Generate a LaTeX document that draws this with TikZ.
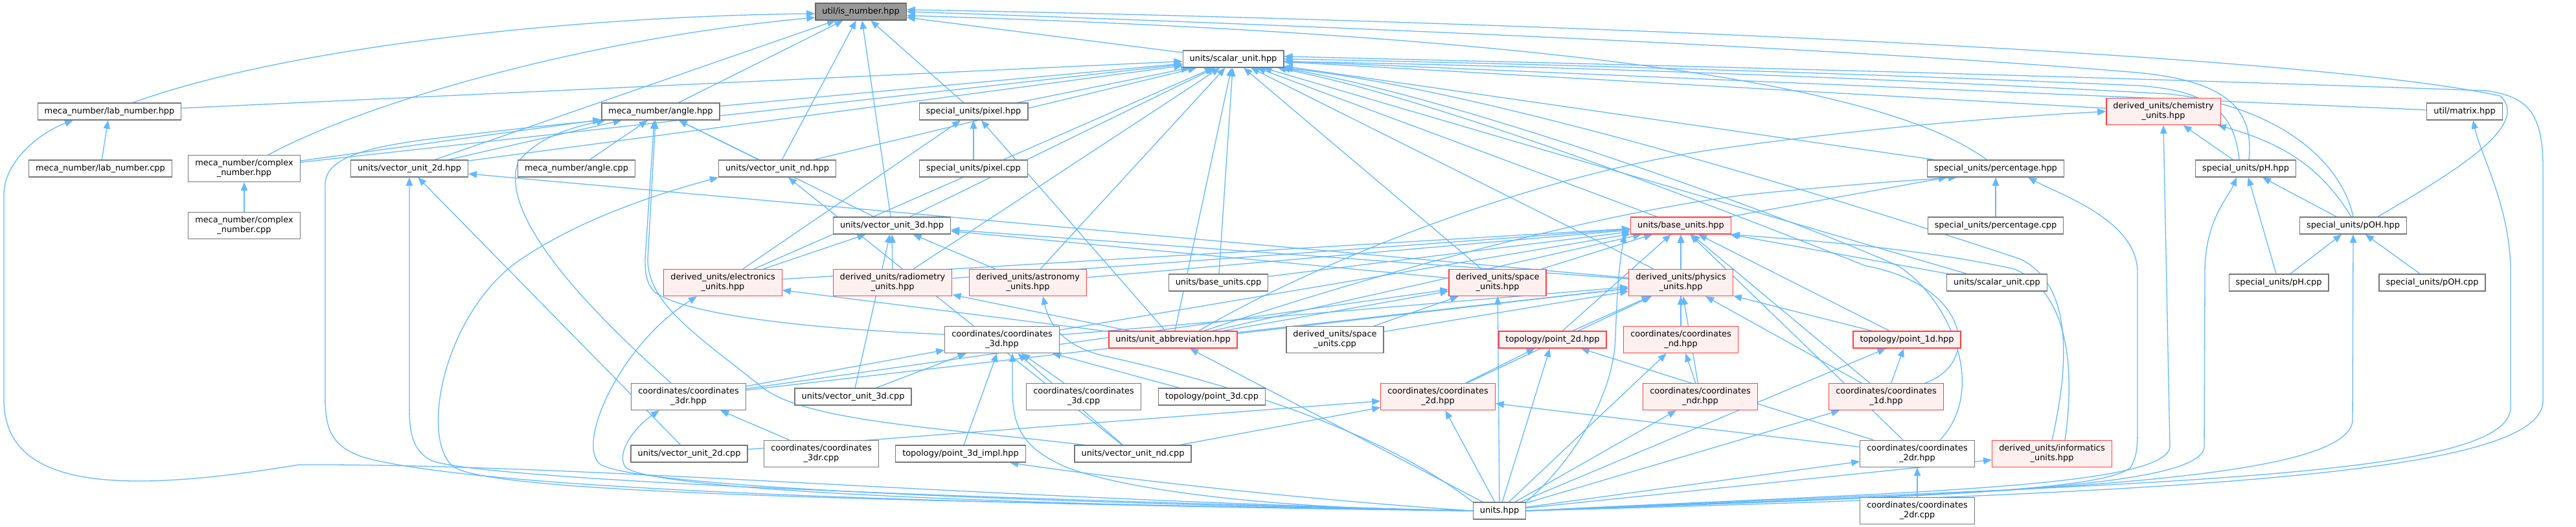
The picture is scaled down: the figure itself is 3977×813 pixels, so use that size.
\documentclass[tikz,border=0pt]{standalone}
\usepackage{fontspec}
\setmainfont{DejaVu Sans}
\usetikzlibrary{arrows.meta}
\pgfdeclarelayer{bg}
\pgfsetlayers{bg,main}
\definecolor{edgec}{HTML}{63B8FF}
\definecolor{nodeb}{HTML}{777777}
\definecolor{redb}{HTML}{FF4040}
\definecolor{redf}{HTML}{FFF0F0}
\definecolor{ingrey}{HTML}{999999}
\definecolor{ingreyb}{HTML}{666666}
\tikzset{
 nb/.style={draw=nodeb, line width=1.3pt, fill=white, inner xsep=10.5pt, inner ysep=0pt,
   minimum height=26pt, font=\fontsize{12.9}{15}\selectfont, align=center},
 rb/.style={nb, draw=redb, fill=redf},
 gb/.style={nb, fill=ingrey, draw=ingreyb},
 two/.style={minimum height=41pt},
 e/.style={draw=edgec, line width=1.3pt, -{Triangle[length=13pt,width=10.5pt]}},
}
\begin{document}
\begin{tikzpicture}[x=1pt,y=-1pt]
\useasboundingbox (0,0) rectangle (3977,813);
% nodes
\node[gb] (IN) at (1329,18) {util/is\_number.hpp};
\node[nb] (SU) at (1904,91) {units/scalar\_unit.hpp};
\node[nb] (labh) at (169,172) {meca\_number/lab\_number.hpp};
\node[nb] (angh) at (1020,172) {meca\_number/angle.hpp};
\node[nb] (pixh) at (1503,172) {special\_units/pixel.hpp};
\node[rb,two] (chem) at (3340,172) {derived\_units/chemistry\\\_units.hpp};
\node[nb] (matrix) at (3805,172) {util/matrix.hpp};
\node[nb] (labc) at (155,260) {meca\_number/lab\_number.cpp};
\node[nb,two] (cplxh) at (377,260) {meca\_number/complex\\\_number.hpp};
\node[nb] (v2h) at (632,260) {units/vector\_unit\_2d.hpp};
\node[nb] (angc) at (890,260) {meca\_number/angle.cpp};
\node[nb] (vndh) at (1200,260) {units/vector\_unit\_nd.hpp};
\node[nb] (pixc) at (1503,260) {special\_units/pixel.cpp};
\node[nb] (perh) at (3081,260) {special\_units/percentage.hpp};
\node[nb] (phh) at (3467,260) {special\_units/pH.hpp};
\node[nb,two] (cplxc) at (377,348) {meca\_number/complex\\\_number.cpp};
\node[nb] (v3h) at (1377,348) {units/vector\_unit\_3d.hpp};
\node[rb] (baseh) at (2595,348) {units/base\_units.hpp};
\node[nb] (perc) at (3081,348) {special\_units/percentage.cpp};
\node[nb] (pohh) at (3633,348) {special\_units/pOH.hpp};
\node[rb,two] (elec) at (1116,436) {derived\_units/electronics\\\_units.hpp};
\node[rb,two] (radio) at (1378,436) {derived\_units/radiometry\\\_units.hpp};
\node[rb,two] (astro) at (1587,436) {derived\_units/astronomy\\\_units.hpp};
\node[nb] (basec) at (1881,436) {units/base\_units.cpp};
\node[rb,two] (spaceh) at (2312,436) {derived\_units/space\\\_units.hpp};
\node[rb,two] (phys) at (2595,436) {derived\_units/physics\\\_units.hpp};
\node[nb] (suc) at (3083,436) {units/scalar\_unit.cpp};
\node[nb] (phc) at (3518,436) {special\_units/pH.cpp};
\node[nb] (pohc) at (3755,436) {special\_units/pOH.cpp};
\node[nb,two] (c3dh) at (1547,524) {coordinates/coordinates\\\_3d.hpp};
\node[rb] (abbr) at (1811,524) {units/unit\_abbreviation.hpp};
\node[nb,two] (spacec) at (2061,524) {derived\_units/space\\\_units.cpp};
\node[rb] (p2d) at (2397,524) {topology/point\_2d.hpp};
\node[rb,two] (cndh) at (2595,524) {coordinates/coordinates\\\_nd.hpp};
\node[rb] (p1d) at (2944,524) {topology/point\_1d.hpp};
\node[nb,two] (c3drh) at (1063,612) {coordinates/coordinates\\\_3dr.hpp};
\node[nb] (v3c) at (1317,612) {units/vector\_unit\_3d.cpp};
\node[nb,two] (c3dc) at (1673,612) {coordinates/coordinates\\\_3d.cpp};
\node[nb] (p3dc) at (1871,612) {topology/point\_3d.cpp};
\node[rb,two] (c2dh) at (2220,612) {coordinates/coordinates\\\_2d.hpp};
\node[rb,two] (cndrh) at (2625,612) {coordinates/coordinates\\\_ndr.hpp};
\node[rb,two] (c1dh) at (2912,612) {coordinates/coordinates\\\_1d.hpp};
\node[nb] (v2c) at (1064,700) {units/vector\_unit\_2d.cpp};
\node[nb,two] (c3drc) at (1268,700) {coordinates/coordinates\\\_3dr.cpp};
\node[nb] (p3di) at (1483,700) {topology/point\_3d\_impl.hpp};
\node[nb] (vndc) at (1749,700) {units/vector\_unit\_nd.cpp};
\node[nb,two] (c2drh) at (2960,700) {coordinates/coordinates\\\_2dr.hpp};
\node[rb,two] (info) at (3168,700) {derived\_units/informatics\\\_units.hpp};
\node[nb] (units) at (2315,788) {units.hpp};
\node[nb,two] (c2drc) at (2960,788) {coordinates/coordinates\\\_2dr.cpp};

\begin{pgfonlayer}{bg}
% ---- to is_number
\draw[e] ([xshift=36pt]labh.north) .. controls (450,70) and (900,25) .. ([yshift=-3pt]IN.west);
\draw[e] ([xshift=37pt]cplxh.north) .. controls (560,160) and (900,60) .. ([yshift=-9pt]IN.west);
\foreach \c in {v2h,angh,vndh,v3h,pixh,SU} \draw[e] (\c) -- (IN);
\draw[e] ([xshift=-14pt]perh.north) .. controls (2950,160) and (2600,60) .. ([yshift=-6pt]IN.east);
\draw[e] ([xshift=5pt]phh.north) .. controls (3480,170) and (3440,125) .. (3300,112) .. controls (2800,70) and (1900,35) .. (IN.east);
\draw[e] ([xshift=38pt]pohh.north) .. controls (3780,270) and (3910,195) .. (3860,148) .. controls (3500,70) and (2000,25) .. ([yshift=3pt]IN.east);
% ---- to scalar_unit
\foreach \c in {labh,cplxh,v2h,angh,vndh,v3h,pixh,chem,perh,matrix,baseh,elec,radio,astro,abbr,basec,spaceh,phys,suc}
  \draw[e] (\c) -- (SU);
\draw[e] ([xshift=60pt]c1dh.north) .. controls (3060,560) and (3040,440) .. (2880,410) .. controls (2700,340) and (2250,160) .. ([xshift=-10pt]SU.south east);
\draw[e] ([xshift=35pt]c2drh.north) .. controls (3070,600) and (3010,460) .. (2930,410) .. controls (2750,330) and (2250,150) .. ([xshift=-4pt]SU.south east);
\draw[e] (info.north) .. controls (3195,560) and (3200,440) .. (3120,400) .. controls (2850,310) and (2300,140) .. (SU.south east);
\draw[e] ([xshift=-10pt]phh.north) .. controls (3450,180) and (3420,140) .. (3300,132) .. controls (2800,110) and (2300,97) .. (SU.east);
\draw[e] (pohh.north) .. controls (3615,250) and (3520,165) .. (3350,145) .. controls (2800,115) and (2300,100) .. ([yshift=-4pt]SU.east);
\draw[e] (units.east) .. controls (3400,760) and (3920,730) .. (3926,620) -- (3926,260) .. controls (3926,170) and (3900,150) .. (3840,140) .. controls (3000,110) and (2300,95) .. ([yshift=4pt]SU.east);
% ---- to angle
\foreach \c in {cplxh,v2h,angc,vndh,v3h} \draw[e] (\c) -- (angh);
\draw[e] (units.west) .. controls (1200,775) and (700,745) .. (560,705) .. controls (510,688) and (502,660) .. (502,610) -- (502,285) .. controls (502,245) and (560,228) .. (660,215) .. controls (800,198) and (880,190) .. (angh.south west);
\draw[e] ([xshift=-27pt]c3drh.north) .. controls (900,470) and (770,330) .. (800,250) .. controls (830,210) and (890,195) .. ([xshift=6pt]angh.south west);
\draw[e] ([yshift=-13pt]c3dh.north west) .. controls (1200,505) and (1050,480) .. (1010,450) .. controls (997,435) and (996,420) .. (996,400) -- ([xshift=-10pt]angh.south);
\draw[e] ([xshift=-75pt]vndc.north) .. controls (1450,660) and (1250,650) .. (1180,600) .. controls (1080,520) and (1000,470) .. (1000,400) -- ([xshift=-8pt]angh.south);
% ---- meca_number
\draw[e] (labc) -- (labh);
\draw[e] (units.west) .. controls (1500,770) and (900,715) .. (461,717) .. controls (200,760) and (6,760) .. (6,617) -- (6,300) .. controls (6,250) and (60,205) .. ([xshift=-56pt]labh.south);
\draw[e] (cplxc) -- (cplxh);
% ---- vector units
\draw[e] (v2c) -- (v2h);
\draw[e] (phys) -- (v2h);
\draw[e] (units.west) .. controls (1300,765) and (720,735) .. (665,710) .. controls (638,695) and (632,670) .. (632,630) -- (v2h.south);
\draw[e] (vndc) -- (vndh);
\draw[e] (units.west) .. controls (1300,772) and (760,760) .. (700,720) .. controls (650,680) and (680,500) .. (790,410) .. controls (900,330) and (1050,290) .. (vndh.south west);
\foreach \c in {elec,radio,astro,v3c,phys,spaceh} \draw[e] (\c) -- (v3h);
% ---- special units
\draw[e] (pixc) -- (pixh);
\draw[e] (abbr) -- (pixh);
\draw[e] (elec) -- (pixh);
\draw[e] (phh) -- (chem);
\draw[e] ([xshift=-3pt]pohh.north) .. controls (3590,270) and (3540,225) .. ([xshift=-5pt]chem.south east);
\draw[e] ([xshift=40pt]abbr.north) .. controls (1950,450) and (2300,280) .. (2650,230) .. controls (2900,195) and (3100,180) .. (chem.west);
\draw[e] (units.east) .. controls (2900,760) and (3340,755) .. (3350,690) -- (chem.south);
\draw[e] (units.east) .. controls (3300,745) and (3870,740) .. (3876,630) -- (3876,420) .. controls (3876,320) and (3830,240) .. ([xshift=13pt]matrix.south);
\draw[e] (perc) -- (perh);
\draw[e] (baseh) -- (perh);
\draw[e] ([xshift=48pt]abbr.north) .. controls (2100,430) and (2450,330) .. (2700,300) .. controls (2850,285) and (2950,278) .. ([xshift=-60pt]perh.south);
\draw[e] (units.east) .. controls (2800,768) and (3250,765) .. (3290,720) .. controls (3300,700) and (3300,690) .. (3300,650) -- (3300,420) .. controls (3300,340) and (3180,300) .. ([xshift=50pt]perh.south);
\draw[e] (pohh) -- (phh);
\draw[e] (phc) -- (phh);
\draw[e] (units.east) .. controls (3000,765) and (3395,755) .. (3403,690) -- (3404,420) .. controls (3404,340) and (3440,305) .. ([xshift=-14pt]phh.south);
\draw[e] (pohc) -- (pohh);
\draw[e] (phc) -- (pohh);
\draw[e] (units.east) .. controls (3100,760) and (3620,745) .. (3632,650) -- (pohh.south);
% ---- base units
\foreach \c in {basec,phys,spaceh,elec,radio,astro,abbr,c3dh,cndh,c1dh,p1d,suc,c2drh,p2d}
  \draw[e] (\c) -- (baseh);
\draw[e] ([xshift=20pt]info.north) .. controls (3205,560) and (3190,450) .. (3110,415) .. controls (2950,380) and (2750,368) .. (baseh.south east);
\draw[e] (units.north east) .. controls (2440,700) and (2492,600) .. (2494,520) .. controls (2496,460) and (2500,400) .. ([xshift=-8pt]baseh.south west);
% ---- derived units
\draw[e] (abbr) -- (elec);
\draw[e] (units.west) .. controls (1400,772) and (960,745) .. (925,715) .. controls (890,680) and (960,530) .. ([xshift=-40pt]elec.south);
\draw[e] (abbr) -- (radio);
\draw[e] (units.north west) .. controls (2100,640) and (1800,570) .. (1700,548) .. controls (1640,532) and (1620,500) .. ([xshift=23pt]astro.south);
\foreach \c in {spacec,abbr,units,c3drh} \draw[e] (\c) -- (spaceh);
\foreach \c in {spacec,p2d,cndh,p1d,c1dh,cndrh,c2dh,abbr,c3dh,c3drh} \draw[e] (\c) -- (phys);
% ---- coordinates 3d
\foreach \c in {c3drh,v3c,p3di,vndc,c3dc,p3dc} \draw[e] (\c) -- (c3dh);
\draw[e] (units.west) .. controls (1900,785) and (1700,745) .. (1640,718) .. controls (1580,690) and (1563,660) .. (1563,600) -- ([xshift=16pt]c3dh.south);
\draw[e] (units.west) .. controls (2000,770) and (1700,735) .. ([xshift=76pt]p3di.south);
\draw[e] (c3drc) -- (c3drh);
\draw[e] (units.west) .. controls (1400,778) and (990,750) .. (965,720) .. controls (950,695) and (985,655) .. ([xshift=-45pt]c3drh.south);
\draw[e] (units) -- (abbr);
% ---- topology / coordinates
\foreach \c in {c2dh,units,c2drh} \draw[e] (\c) -- (p2d);
\foreach \c in {cndrh,units} \draw[e] (\c) -- (cndh);
\foreach \c in {c1dh,units} \draw[e] (\c) -- (p1d);
\foreach \c in {v2c,vndc,c2drh,units} \draw[e] (\c) -- (c2dh);
\draw[e] (units) -- (cndrh);
\draw[e] (units) -- (c1dh);
\draw[e] (units) -- (info);
\draw[e] (c2drc) -- (c2drh);
\draw[e] (units) -- (c2drh);
\end{pgfonlayer}
\end{tikzpicture}
\end{document}
